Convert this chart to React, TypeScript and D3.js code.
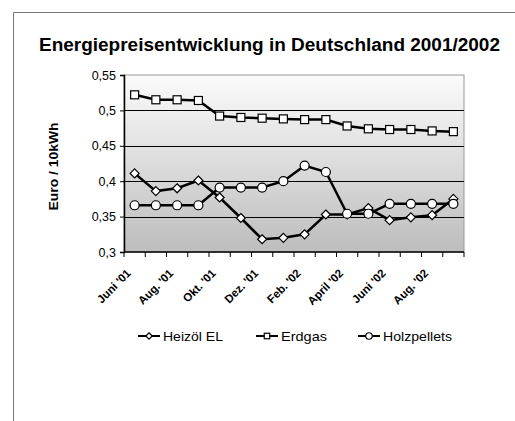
import * as d3 from 'd3';
import React, { useEffect, useRef } from 'react';

const months = [
  "Juni '01", "Juli '01", "Aug. '01", "Sep. '01", "Okt. '01", "Nov. '01", "Dez. '01", "Jan. '02",
  "Feb. '02", "März '02", "April '02", "Mai '02", "Juni '02", "Juli '02", "Aug. '02", "Sep. '02",
];
const heizoel = [0.411, 0.386, 0.390, 0.401, 0.377, 0.348, 0.318, 0.320, 0.325, 0.353, 0.353, 0.362, 0.345, 0.349, 0.352, 0.375];
const erdgas = [0.522, 0.515, 0.515, 0.514, 0.492, 0.490, 0.489, 0.488, 0.487, 0.487, 0.478, 0.474, 0.473, 0.473, 0.471, 0.470];
const holzpellets = [0.366, 0.366, 0.366, 0.366, 0.391, 0.391, 0.391, 0.400, 0.422, 0.413, 0.354, 0.354, 0.368, 0.368, 0.368, 0.368];
const yTicks = [0.3, 0.35, 0.4, 0.45, 0.5, 0.55];
const seriesNames = ['Heizöl EL', 'Erdgas', 'Holzpellets'];

const W = 515;
const H = 421;
const font = 'Liberation Sans, Arial, sans-serif';

type Shape = 'diamond' | 'square' | 'circle';

const drawMarker = (g: d3.Selection<SVGGElement, unknown, null, undefined>, shape: Shape, x: number, y: number, s: number) => {
  if (shape === 'square') {
    g.append('rect').attr('x', x - s / 2).attr('y', y - s / 2).attr('width', s).attr('height', s)
      .attr('fill', '#fff').attr('stroke', '#000').attr('stroke-width', 1.2);
  } else if (shape === 'circle') {
    g.append('circle').attr('cx', x).attr('cy', y).attr('r', s / 2 + 0.5)
      .attr('fill', '#fff').attr('stroke', '#000').attr('stroke-width', 1.2);
  } else {
    const r = s / 2 + 0.5;
    g.append('path').attr('d', `M${x},${y - r}L${x + r},${y}L${x},${y + r}L${x - r},${y}Z`)
      .attr('fill', '#fff').attr('stroke', '#000').attr('stroke-width', 1.2);
  }
};

const App: React.FC = () => {
  const ref = useRef<SVGSVGElement | null>(null);

  useEffect(() => {
    const svg = d3.select(ref.current);
    svg.selectAll('*').remove();
    const plot = { left: 124, right: 464, top: 75, bottom: 252 };

    const x = d3.scaleBand().domain(months).range([plot.left, plot.right]);
    const y = d3.scaleLinear().domain([0.3, 0.55]).range([plot.bottom, plot.top]);
    const fmt = (v: number) => String(+v.toFixed(2)).replace('.', ',');

    // outer chart frame
    svg.append('path').attr('d', `M13.5,${H}V12.5H${W}`).attr('fill', 'none').attr('stroke', '#777').attr('stroke-width', 1);

    svg.append('text').attr('x', 39).attr('y', 51)
      .attr('font-family', font).attr('font-weight', 'bold').attr('font-size', 18)
      .attr('textLength', 461).attr('lengthAdjust', 'spacingAndGlyphs')
      .text('Energiepreisentwicklung in Deutschland 2001/2002');

    const defs = svg.append('defs');
    const grad = defs.append('linearGradient').attr('id', 'bg').attr('x1', 0).attr('y1', 0).attr('x2', 0).attr('y2', 1);
    grad.append('stop').attr('offset', '0%').attr('stop-color', '#fbfbfb');
    grad.append('stop').attr('offset', '100%').attr('stop-color', '#bdbdbd');

    svg.append('rect').attr('x', plot.left).attr('y', plot.top)
      .attr('width', plot.right - plot.left).attr('height', plot.bottom - plot.top)
      .attr('fill', 'url(#bg)').attr('stroke', '#999').attr('stroke-width', 1);

    // gridlines
    svg.append('g').selectAll('line').data(yTicks.slice(1, -1)).join('line')
      .attr('x1', plot.left).attr('x2', plot.right)
      .attr('y1', d => Math.round(y(d)) + 0.5).attr('y2', d => Math.round(y(d)) + 0.5)
      .attr('stroke', '#000').attr('stroke-width', 1);

    // y axis
    const yAxis = svg.append('g').attr('transform', `translate(${plot.left},0)`)
      .call(d3.axisLeft(y).tickValues(yTicks).tickFormat(d => fmt(+d)).tickSize(4).tickPadding(4));
    yAxis.select('.domain').attr('stroke', '#000').attr('stroke-width', 1.5);
    yAxis.selectAll('text').attr('font-family', font).attr('font-size', 12.5).attr('fill', '#000');

    // x axis
    const xg = svg.append('g');
    xg.append('line').attr('x1', plot.left).attr('x2', plot.right).attr('y1', plot.bottom).attr('y2', plot.bottom)
      .attr('stroke', '#000').attr('stroke-width', 1.5);
    xg.selectAll('line.tick').data(months.concat(['end'])).join('line').attr('class', 'tick')
      .attr('x1', (d, i) => plot.left + i * x.bandwidth()).attr('x2', (d, i) => plot.left + i * x.bandwidth())
      .attr('y1', plot.bottom).attr('y2', plot.bottom + 5).attr('stroke', '#000').attr('stroke-width', 1);
    xg.selectAll('text').data(months.filter((d, i) => i % 2 === 0)).join('text')
      .attr('transform', d => `translate(${(x(d) ?? 0) + x.bandwidth() / 2 - 3},${plot.bottom + 22}) rotate(-45)`)
      .attr('text-anchor', 'end').attr('font-family', font).attr('font-weight', 'bold').attr('font-size', 11.5)
      .text(d => d);

    svg.append('text').attr('transform', `translate(58,${(plot.top + plot.bottom) / 2 + 3}) rotate(-90)`)
      .attr('text-anchor', 'middle').attr('font-family', font).attr('font-weight', 'bold').attr('font-size', 12.5)
      .attr('textLength', 88).attr('lengthAdjust', 'spacingAndGlyphs')
      .text('Euro / 10kWh');

    const series: { values: number[]; shape: Shape }[] = [
      { values: heizoel, shape: 'diamond' },
      { values: erdgas, shape: 'square' },
      { values: holzpellets, shape: 'circle' },
    ];
    const line = d3.line<number>().x((d, i) => (x(months[i]) ?? 0) + x.bandwidth() / 2).y(d => y(d));
    series.forEach(s => {
      const g = svg.append('g');
      g.append('path').attr('d', line(s.values)).attr('fill', 'none').attr('stroke', '#000').attr('stroke-width', 2.5);
      s.values.forEach((v, i) => drawMarker(g, s.shape, (x(months[i]) ?? 0) + x.bandwidth() / 2, y(v), 8));
    });

    // legend
    const legX = [138, 256, 358];
    const legLen = [60, 46, 69];
    seriesNames.forEach((name, i) => {
      const g = svg.append('g');
      const ly = 336;
      g.append('line').attr('x1', legX[i]).attr('x2', legX[i] + 22).attr('y1', ly).attr('y2', ly)
        .attr('stroke', '#000').attr('stroke-width', 2);
      drawMarker(g, series[i].shape, legX[i] + 11, ly, 5.5);
      g.append('text').attr('x', legX[i] + 25).attr('y', ly + 5).attr('font-family', font).attr('font-size', 13.5)
        .attr('textLength', legLen[i]).attr('lengthAdjust', 'spacingAndGlyphs')
        .text(name);
    });
  }, []);

  return <svg ref={ref} width={W} height={H} style={{ position: 'absolute', left: 0, top: 0 }} />;
};

export default App;
